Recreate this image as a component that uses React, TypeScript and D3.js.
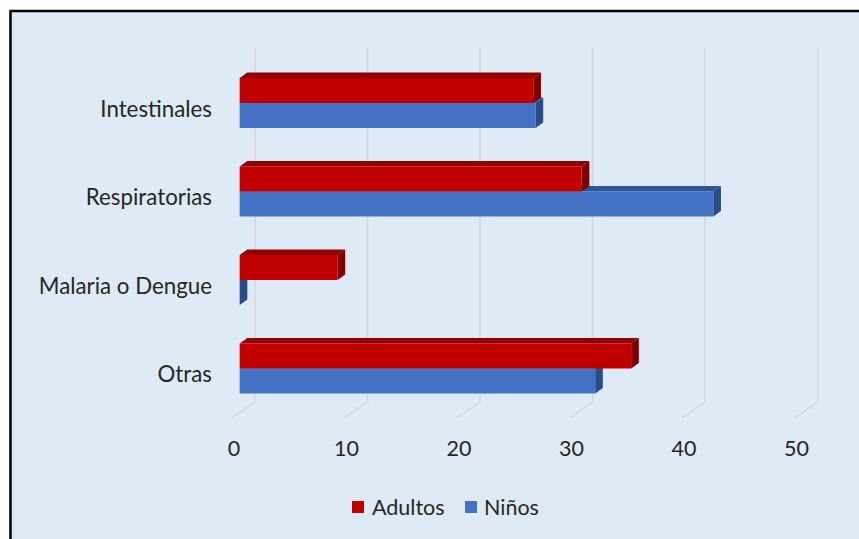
import React from "react";
import * as d3 from "d3";

const categories = ["Intestinales", "Respiratorias", "Malaria o Dengue", "Otras"];
const seriesNames = ["Adultos", "Niños"];
const adultos = [26.1, 30.4, 8.7, 34.8];
const ninos = [26.3, 42.1, 0, 31.6];
const ticks = [0, 10, 20, 30, 40, 50];

const W = 859;
const H = 539;
const FONT = "Lato, 'Open Sans', sans-serif";
const FS = 21.5;

// colours per series: front, top, side
const palette: Record<string, { front: string; top: string; side: string }> = {
  Adultos: { front: "#C00000", top: "#920000", side: "#7A0000" },
  Niños: { front: "#4472C4", top: "#2F5597", side: "#2B4C86" },
};

export default function App() {
  // back wall of the 3D box
  const x = d3.scaleLinear().domain([0, 50]).range([255, 817.5]);
  const y = d3.scaleBand().domain(categories).range([48, 402]);
  const depth = { dx: -23, dy: 16 };
  const proj = (v: number, yb: number, d: number): [number, number] => [
    x(v) + depth.dx * d,
    yb + depth.dy * d,
  ];
  const pts = (arr: [number, number][]) => arr.map((p) => p.join(",")).join(" ");

  const dBack = 1 / 3;
  const dFront = 2 / 3;

  const bars = categories.map((c, i) => {
    const center = (y(c) as number) + y.bandwidth() / 2;
    const sub = d3.scaleBand().domain(seriesNames).range([center - 25, center + 25]);
    return { c, center, sub, vals: { Adultos: adultos[i], Niños: ninos[i] } as Record<string, number> };
  });

  const drawBar = (name: string, v: number, y0: number, y1: number) => {
    const col = palette[name];
    const front: [number, number][] = [proj(0, y0, dFront), proj(v, y0, dFront), proj(v, y1, dFront), proj(0, y1, dFront)];
    const top: [number, number][] = [proj(0, y0, dFront), proj(v, y0, dFront), proj(v, y0, dBack), proj(0, y0, dBack)];
    const side: [number, number][] = [proj(v, y0, dFront), proj(v, y1, dFront), proj(v, y1, dBack), proj(v, y0, dBack)];
    return (
      <g key={name}>
        <polygon points={pts(top)} fill={col.top} />
        <polygon points={pts(side)} fill={col.side} />
        {v > 0 && <polygon points={pts(front)} fill={col.front} />}
      </g>
    );
  };

  const [y0, y1] = y.range();

  return (
    <svg width={W} height={H} style={{ position: "absolute", left: 0, top: 0 }}>
      <rect x={0} y={0} width={W} height={H} fill="#ffffff" />
      <rect x={10.5} y={11} width={W + 10} height={H + 10} fill="#DEEAF6" stroke="#000" strokeWidth={2.5} />

      {/* gridlines on back wall and floor */}
      {ticks.map((t) => (
        <polyline
          key={t}
          points={pts([[x(t), y0], [x(t), y1], proj(t, y1, 1)])}
          fill="none"
          stroke="#D6D6D6"
          strokeWidth={1.5}
        />
      ))}

      {/* bars: lower series first so the upper one sits over its top face */}
      {bars.map((b) => (
        <g key={b.c}>
          {[...seriesNames].reverse().map((s) => {
            const yy0 = b.sub(s) as number;
            return drawBar(s, b.vals[s], yy0, yy0 + b.sub.bandwidth());
          })}
        </g>
      ))}

      {/* category labels */}
      {bars.map((b) => (
        <text
          key={b.c}
          x={212}
          y={b.center + depth.dy}
          textAnchor="end"
          dominantBaseline="central"
          fontFamily={FONT}
          fontSize={22.3}
          fill="#262626"
        >
          {b.c}
        </text>
      ))}

      {/* value axis labels */}
      {ticks.map((t) => (
        <text
          key={t}
          x={x(t) + depth.dx + 2}
          y={456}
          textAnchor="middle"
          fontFamily={FONT}
          fontSize={FS}
          fill="#262626"
        >
          {t}
        </text>
      ))}

      {/* legend */}
      <g fontFamily={FONT} fontSize={FS} fill="#262626">
        <rect x={352} y={501} width={12} height={12} fill={palette.Adultos.front} />
        <text x={372} y={507} dominantBaseline="central">Adultos</text>
        <rect x={465} y={501} width={12} height={12} fill={palette["Niños"].front} />
        <text x={484} y={507} dominantBaseline="central">Niños</text>
      </g>
    </svg>
  );
}
